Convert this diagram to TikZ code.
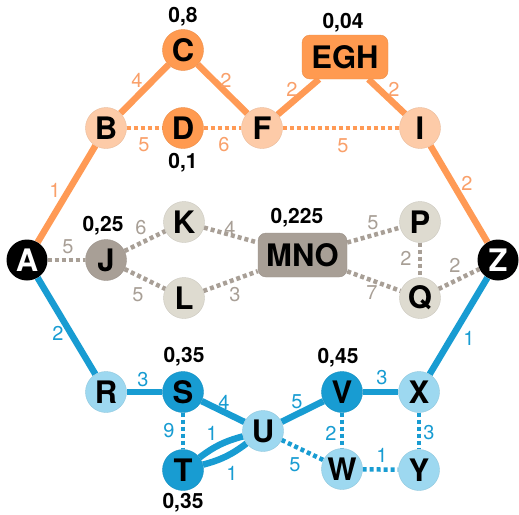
\documentclass[tikz,border=0pt]{standalone}
\usepackage{fontspec}
\setmainfont{TeX Gyre Heros}
\definecolor{oline}{HTML}{FF9A55}
\definecolor{odark}{HTML}{FF9A50}
\definecolor{olight}{HTML}{FDCBA8}
\definecolor{olab}{HTML}{F9A06A}
\definecolor{gline}{HTML}{A89F96}
\definecolor{glight}{HTML}{DEDBD0}
\definecolor{bline}{HTML}{189CD2}
\definecolor{blight}{HTML}{9DD8F0}
\pgfdeclarelayer{bg}
\pgfsetlayers{bg,main}
\tikzset{
  vtx/.style={circle, minimum size=41pt, inner sep=0pt, draw=#1!92!black, line width=0.4pt, fill=#1, font=\fontsize{31}{31}\selectfont\bfseries},
  boxv/.style={rounded corners=8pt, minimum width=86pt, minimum height=44pt, inner sep=0pt, fill=#1, draw=#1!92!black, line width=0.4pt, font=\fontsize{31}{31}\selectfont\bfseries},
  endv/.style={circle, minimum size=41pt, inner sep=0pt, fill=black, text=white, font=\fontsize{31}{31}\selectfont\bfseries},
  osolid/.style={draw=oline, line width=6.5pt},
  odot/.style={draw=oline, line width=4.5pt, dash pattern=on 4pt off 3pt},
  gdot/.style={draw=gline, line width=4.5pt, dash pattern=on 4pt off 3pt},
  bsolid/.style={draw=bline, line width=6.5pt},
  bdot/.style={draw=bline, line width=4.5pt, dash pattern=on 4pt off 3pt},
  wo/.style={text=olab, font=\fontsize{20}{20}\selectfont},
  wg/.style={text=gline, font=\fontsize{20}{20}\selectfont},
  wb/.style={text=bline, font=\fontsize{20}{20}\selectfont},
  wt/.style={text=black, font=\fontsize{21}{21}\selectfont\bfseries},
}
\begin{document}
\begin{tikzpicture}[x=1pt,y=-1pt]
\useasboundingbox (0,0) rectangle (519,514);
% nodes
\node[endv] (A) at (27,260) {A};
\node[endv] (Z) at (498,260) {Z};
\node[vtx=olight] (B) at (106,128) {B};
\node[vtx=odark] (C) at (183,50) {C};
\node[vtx=odark] (D) at (183,128) {D};
\node[vtx=olight] (F) at (262,128) {F};
\node[boxv=odark] (EGH) at (345,57) {EGH};
\node[vtx=olight] (I) at (420,128) {I};
\node[vtx=gline] (J) at (106,260) {J};
\node[vtx=glight] (K) at (184,222) {K};
\node[vtx=glight] (L) at (184,298) {L};
\node[boxv=gline, minimum width=89pt] (MNO) at (302.5,255) {MNO};
\node[vtx=glight] (P) at (420,222) {P};
\node[vtx=glight] (Q) at (420,298) {Q};
\node[vtx=blight] (R) at (106,392) {R};
\node[vtx=bline] (S) at (183,392) {S};
\node[vtx=bline] (T) at (183,470) {T};
\node[vtx=blight] (U) at (263,431) {U};
\node[vtx=bline] (V) at (342,392) {V};
\node[vtx=blight] (W) at (342,469) {W};
\node[vtx=blight] (X) at (419,392) {X};
\node[vtx=blight] (Y) at (419,470) {Y};
% edges
\begin{pgfonlayer}{bg}
\draw[osolid] (A) -- (B);
\draw[osolid] (B) -- (C);
\draw[osolid] (C) -- (F);
\draw[osolid] (F) -- (EGH);
\draw[osolid] (EGH) -- (I);
\draw[osolid] (I) -- (Z);
\draw[odot] (B) -- (D);
\draw[odot] (D) -- (F);
\draw[odot] (F) -- (I);
\draw[gdot] (A) -- (J);
\draw[gdot] (J) -- (K);
\draw[gdot] (J) -- (L);
\draw[gdot] (K) -- (MNO);
\draw[gdot] (L) -- (MNO);
\draw[gdot] (MNO) -- (P);
\draw[gdot] (MNO) -- (Q);
\draw[gdot] (P) -- (Q);
\draw[gdot] (Q) -- (Z);
\draw[bsolid] (A) -- (R);
\draw[bsolid] (R) -- (S);
\draw[bsolid] (S) -- (U);
\draw[bsolid] (T) to[bend left=11] (U);
\draw[bsolid] (T) to[bend right=11] (U);
\draw[bsolid] (U) -- (V);
\draw[bsolid] (V) -- (X);
\draw[bsolid] (X) -- (Z);
\draw[bdot] (S) -- (T);
\draw[bdot] (U) -- (W);
\draw[bdot] (V) -- (W);
\draw[bdot] (W) -- (Y);
\draw[bdot] (X) -- (Y);
\end{pgfonlayer}
% weight labels
\node[wo] (lAB) at (55,190) {1};
\node[wo] (lBC) at (137,80) {4};
\node[wo] (lCF) at (226,80) {2};
\node[wo] (lBD) at (144,145) {5};
\node[wo] (lDF) at (224,145) {6};
\node[wo] (lFE) at (292,89) {2};
\node[wo] (lEI) at (394,89) {2};
\node[wo] (lFI) at (343,146) {5};
\node[wo] (lIZ) at (467,183) {2};
\node[wg] (lAJ) at (68,247) {5};
\node[wg] (lJK) at (141,228) {6};
\node[wg] (lJL) at (138,295) {5};
\node[wg] (lKM) at (230,228) {4};
\node[wg] (lLM) at (235,295) {3};
\node[wg] (lMP) at (373,223) {5};
\node[wg] (lMQ) at (372,293) {7};
\node[wg] (lPQ) at (406,258) {2};
\node[wg] (lQZ) at (455,265) {2};
\node[wb] (lAR) at (58,333) {2};
\node[wb] (lRS) at (143,380) {3};
\node[wb] (lST) at (169,431) {9};
\node[wb] (lSU) at (224,402) {4};
\node[wb] (lTU1) at (212,433) {1};
\node[wb] (lTU2) at (232,473) {1};
\node[wb] (lUV) at (297,402) {5};
\node[wb] (lVX) at (382,378) {3};
\node[wb] (lVW) at (331,433) {2};
\node[wb] (lXY) at (429,433) {3};
\node[wb] (lUW) at (295,465) {5};
\node[wb] (lWY) at (382,455) {1};
\node[wb] (lXZ) at (469,338) {1};
% value labels
\node[wt] (vC) at (183,17) {0,8};
\node[wt] (vD) at (183,163) {0,1};
\node[wt] (vEGH) at (343,23) {0,04};
\node[wt] (vJ) at (103,226) {0,25};
\node[wt] (vMNO) at (297,218) {0,225};
\node[wt] (vS) at (184,357) {0,35};
\node[wt] (vT) at (183,503) {0,35};
\node[wt] (vV) at (338,358) {0,45};
\end{tikzpicture}
\end{document}
